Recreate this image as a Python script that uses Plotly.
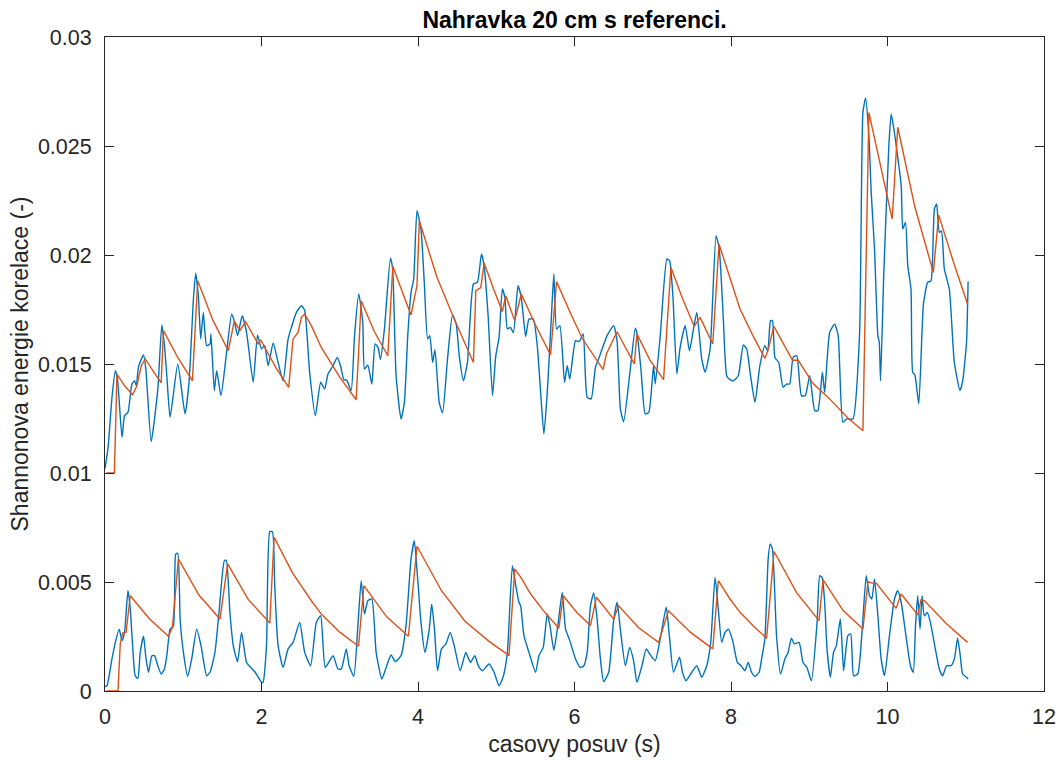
import plotly.graph_objects as go

# ---------------- data ----------------
upper_blue_t = [0.0, 0.04, 0.09, 0.132, 0.16, 0.217, 0.25, 0.293, 0.344, 0.378, 0.40, 0.429, 0.493, 0.522, 0.59,
                0.675, 0.726, 0.76, 0.79, 0.832, 0.93, 1.023, 1.074, 1.13, 1.159, 1.193, 1.223, 1.256, 1.299, 1.342,
                1.354, 1.397, 1.427, 1.482, 1.554, 1.618, 1.652, 1.694, 1.754, 1.809, 1.894, 1.949, 2.0, 2.04, 2.085,
                2.149, 2.212, 2.276, 2.34, 2.382, 2.446, 2.51, 2.552, 2.615, 2.688, 2.756, 2.807, 2.85, 2.914, 2.968,
                3.01, 3.053, 3.09, 3.146, 3.189, 3.243, 3.294, 3.316, 3.359, 3.41, 3.452, 3.49, 3.52, 3.571, 3.647,
                3.675, 3.72, 3.783, 3.826, 3.869, 3.911, 3.945, 3.987, 4.038, 4.08, 4.123, 4.15, 4.187, 4.217, 4.271,
                4.314, 4.377, 4.441, 4.49, 4.527, 4.581, 4.632, 4.708, 4.76, 4.811, 4.845, 4.896, 4.952, 4.994, 5.036,
                5.078, 5.11, 5.142, 5.18, 5.219, 5.278, 5.32, 5.376, 5.418, 5.474, 5.524, 5.567, 5.609, 5.652, 5.703,
                5.736, 5.771, 5.813, 5.873, 5.907, 5.94, 6.013, 6.06, 6.111, 6.162, 6.213, 6.268, 6.331, 6.416, 6.5,
                6.544, 6.586, 6.628, 6.713, 6.777, 6.80, 6.849, 6.904, 6.95, 7.01, 7.032, 7.096, 7.181, 7.215, 7.257,
                7.308, 7.35, 7.414, 7.469, 7.52, 7.563, 7.626, 7.669, 7.733, 7.809, 7.85, 7.902, 7.945, 7.987, 8.03,
                8.093, 8.157, 8.2, 8.25, 8.306, 8.369, 8.433, 8.47, 8.505, 8.53, 8.561, 8.61, 8.666, 8.71, 8.75, 8.794,
                8.84, 8.9, 8.95, 9.006, 9.07, 9.11, 9.168, 9.197, 9.261, 9.325, 9.37, 9.43, 9.48, 9.558, 9.643, 9.686,
                9.72, 9.762, 9.792, 9.834, 9.877, 9.895, 9.911, 9.953, 10.017, 10.047, 10.085, 10.175, 10.195, 10.23,
                10.259, 10.3, 10.322, 10.35, 10.4, 10.459, 10.514, 10.555, 10.599, 10.628, 10.662, 10.69, 10.726,
                10.79, 10.854, 10.926, 10.96, 11.01, 11.03]
upper_blue_v = [0.0102, 0.0112, 0.0135, 0.01469, 0.0143, 0.01164, 0.01263, 0.01278, 0.01408, 0.01423, 0.0140, 0.01489,
                0.01541, 0.01477, 0.01144, 0.01385, 0.01679, 0.01584, 0.01446, 0.01255, 0.0150, 0.01271, 0.01416,
                0.01798, 0.01917, 0.01813, 0.01615, 0.01737, 0.01584, 0.01592, 0.01638, 0.01378, 0.01469, 0.01355,
                0.01553, 0.01729, 0.01698, 0.0163, 0.01721, 0.01645, 0.01416, 0.01633, 0.01569, 0.01585, 0.01492,
                0.01596, 0.01507, 0.01423, 0.01615, 0.01668, 0.01737, 0.01767, 0.01745, 0.01462, 0.01263, 0.01416,
                0.01385, 0.01454, 0.01492, 0.0153, 0.01492, 0.01428, 0.01425, 0.01378, 0.0163, 0.01821, 0.01691,
                0.01477, 0.01495, 0.01408, 0.01592, 0.01575, 0.0152, 0.01661, 0.01985, 0.0194, 0.01446, 0.01248,
                0.01324, 0.0163, 0.01829, 0.0189, 0.02203, 0.02119, 0.01875, 0.01615, 0.0163, 0.01507, 0.01566,
                0.01324, 0.01275, 0.01523, 0.01725, 0.0168, 0.01537, 0.01423, 0.01507, 0.01867, 0.01875, 0.02005,
                0.0195, 0.01721, 0.01355, 0.01537, 0.01622, 0.01844, 0.01805, 0.01661, 0.01668, 0.01644, 0.01859,
                0.01805, 0.01626, 0.01706, 0.01706, 0.01584, 0.0137, 0.01179, 0.0137, 0.01706, 0.01913, 0.0166,
                0.01676, 0.01416, 0.01492, 0.01431, 0.01607, 0.01603, 0.01638, 0.01347, 0.0134, 0.01485, 0.01546,
                0.0163, 0.01676, 0.01605, 0.01294, 0.01235, 0.01477, 0.01664, 0.01638, 0.01477, 0.01271, 0.01279,
                0.01492, 0.01408, 0.0163, 0.01982, 0.01974, 0.01813, 0.01454, 0.01576, 0.01676, 0.01561, 0.0166,
                0.01737, 0.01523, 0.01462, 0.01569, 0.02089, 0.02028, 0.01706, 0.01446, 0.01428, 0.01423, 0.01446,
                0.01587, 0.01569, 0.01446, 0.01324, 0.01492, 0.01584, 0.0156, 0.01699, 0.01699, 0.0153, 0.01507,
                0.01393, 0.01408, 0.01408, 0.0153, 0.01538, 0.01355, 0.01355, 0.01446, 0.01286, 0.01286, 0.01462,
                0.0137, 0.01645, 0.01683, 0.0163, 0.01232, 0.01248, 0.01248, 0.01638, 0.02654, 0.0272, 0.02547,
                0.02287, 0.02028, 0.0163, 0.016, 0.01423, 0.0192, 0.02501, 0.02647, 0.0257, 0.02318, 0.02119, 0.02149,
                0.01951, 0.01844, 0.01462, 0.0145, 0.01317, 0.01775, 0.01875, 0.0188, 0.02211, 0.02234, 0.02104,
                0.0211, 0.01936, 0.01844, 0.01507, 0.01378, 0.0142, 0.0160, 0.01878]

upper_orange_t = [0.02, 0.12, 0.153, 0.25, 0.353, 0.408, 0.463, 0.514, 0.62, 0.718, 0.747, 0.93, 1.117, 1.185, 1.38,
                  1.576, 1.652, 1.724, 1.796, 1.958, 1.99, 2.04, 2.19, 2.348, 2.403, 2.467, 2.51, 2.552, 2.637, 2.764,
                  3.0, 3.21, 3.274, 3.44, 3.614, 3.678, 3.80, 3.911, 3.987, 4.017, 4.24, 4.463, 4.708, 4.739, 4.803,
                  4.845, 4.96, 5.078, 5.121, 5.236, 5.32, 5.50, 5.694, 5.771, 5.94, 6.098, 6.365, 6.408, 6.544, 6.764,
                  6.798, 6.96, 7.138, 7.232, 7.38, 7.529, 7.605, 7.767, 7.847, 7.987, 8.115, 8.28, 8.433, 8.47, 8.548,
                  8.786, 8.858, 9.05, 9.26, 9.5, 9.686, 9.762, 10.06, 10.131, 10.35, 10.586, 10.654, 10.85, 11.023]
upper_orange_v = [0.0100, 0.0100, 0.01454, 0.0140, 0.01359, 0.0140, 0.01492, 0.01523, 0.01465, 0.01413, 0.01653,
                  0.0153, 0.01423, 0.01882, 0.0170, 0.01561, 0.01698, 0.01653, 0.01694, 0.01592, 0.01611, 0.01576,
                  0.0148, 0.01393, 0.01615, 0.01645, 0.01714, 0.01729, 0.01676, 0.01576, 0.0144, 0.01336, 0.0179,
                  0.0165, 0.01538, 0.01948, 0.0183, 0.01725, 0.01859, 0.02157, 0.0190, 0.01706, 0.01507, 0.01836,
                  0.01851, 0.01963, 0.0185, 0.0174, 0.01813, 0.01699, 0.01821, 0.0168, 0.01541, 0.01878, 0.0174,
                  0.01618, 0.01474, 0.01546, 0.01648, 0.0150, 0.01638, 0.0152, 0.01428, 0.01944, 0.0180, 0.01673,
                  0.01714, 0.01592, 0.0205, 0.0189, 0.01752, 0.0163, 0.01526, 0.0156, 0.01673, 0.01517, 0.01517,
                  0.0141, 0.0134, 0.0125, 0.01194, 0.02654, 0.02165, 0.02586, 0.0222, 0.0192, 0.02183, 0.0196,
                  0.01775]

lower_blue_t = [0.0, 0.025, 0.089, 0.132, 0.182, 0.217, 0.25, 0.293, 0.32, 0.353, 0.386, 0.42, 0.45, 0.493, 0.522,
                0.556, 0.599, 0.633, 0.675, 0.718, 0.76, 0.79, 0.832, 0.875, 0.904, 0.93, 0.96, 1.002, 1.057, 1.108,
                1.172, 1.227, 1.299, 1.342, 1.405, 1.457, 1.525, 1.55, 1.596, 1.639, 1.694, 1.745, 1.809, 1.873, 1.92,
                2.0, 2.02, 2.064, 2.106, 2.14, 2.169, 2.212, 2.276, 2.34, 2.403, 2.488, 2.552, 2.628, 2.701, 2.756,
                2.815, 2.914, 2.977, 3.02, 3.083, 3.12, 3.18, 3.232, 3.274, 3.316, 3.359, 3.41, 3.465, 3.538, 3.60,
                3.656, 3.71, 3.783, 3.847, 3.911, 3.953, 3.996, 4.038, 4.089, 4.144, 4.175, 4.21, 4.25, 4.3, 4.357,
                4.412, 4.463, 4.539, 4.611, 4.67, 4.726, 4.77, 4.824, 4.908, 4.972, 5.036, 5.092, 5.142, 5.206, 5.25,
                5.29, 5.312, 5.354, 5.418, 5.503, 5.545, 5.6, 5.652, 5.69, 5.736, 5.787, 5.843, 5.886, 5.94, 6.013,
                6.076, 6.12, 6.162, 6.204, 6.246, 6.289, 6.331, 6.373, 6.437, 6.5, 6.544, 6.586, 6.65, 6.705, 6.755,
                6.798, 6.862, 6.917, 6.975, 7.032, 7.096, 7.172, 7.214, 7.265, 7.342, 7.38, 7.426, 7.499, 7.563,
                7.626, 7.69, 7.741, 7.796, 7.838, 7.881, 7.924, 7.966, 8.021, 8.081, 8.13, 8.178, 8.22, 8.263, 8.306,
                8.36, 8.391, 8.433, 8.475, 8.50, 8.53, 8.582, 8.633, 8.688, 8.73, 8.772, 8.81, 8.87, 8.92, 8.97,
                9.028, 9.1, 9.134, 9.165, 9.197, 9.227, 9.27, 9.31, 9.346, 9.397, 9.42, 9.439, 9.494, 9.53, 9.567,
                9.62, 9.677, 9.728, 9.77, 9.80, 9.834, 9.877, 9.919, 9.962, 10.025, 10.089, 10.131, 10.175, 10.23,
                10.293, 10.33, 10.358, 10.386, 10.416, 10.442, 10.47, 10.51, 10.557, 10.611, 10.662, 10.704, 10.755,
                10.81, 10.854, 10.896, 10.93, 10.96, 11.01, 11.03]
lower_blue_v = [0.0002, 0.00024, 0.00147, 0.00223, 0.00284, 0.00231, 0.0027, 0.0046, 0.0039, 0.00208, 0.0007,
                0.00058, 0.00177, 0.00251, 0.00154, 0.00086, 0.00162, 0.00162, 0.00116, 0.00078, 0.00101, 0.00162,
                0.00284, 0.003, 0.00628, 0.00632, 0.0033, 0.00177, 0.00067, 0.00147, 0.00284, 0.00208, 0.0007,
                0.00086, 0.00177, 0.00361, 0.00598, 0.0060, 0.00361, 0.00208, 0.00134, 0.00269, 0.00131, 0.00104,
                0.00086, 0.0004, 0.0004, 0.00208, 0.00731, 0.0073, 0.00483, 0.00208, 0.00108, 0.00193, 0.00223,
                0.00315, 0.00177, 0.00116, 0.00315, 0.00345, 0.00108, 0.00162, 0.00101, 0.00101, 0.00193, 0.00116,
                0.00067, 0.003, 0.00506, 0.00353, 0.00414, 0.00422, 0.00177, 0.00055, 0.00116, 0.00165, 0.00135,
                0.00162, 0.003, 0.00606, 0.00689, 0.00514, 0.00315, 0.00177, 0.00284, 0.00399, 0.00284, 0.00093,
                0.00193, 0.00216, 0.00269, 0.00208, 0.00093, 0.00177, 0.00131, 0.00162, 0.00116, 0.00093, 0.00124,
                0.00086, 0.00024, 0.0007, 0.00177, 0.00575, 0.00483, 0.00407, 0.0039, 0.00254, 0.00177, 0.00086,
                0.00162, 0.002, 0.00353, 0.00293, 0.00186, 0.003, 0.00452, 0.00284, 0.00231, 0.00147, 0.00108,
                0.00116, 0.00177, 0.00391, 0.0045, 0.0033, 0.00147, 0.00043, 0.00086, 0.00323, 0.00407, 0.00284,
                0.00116, 0.002, 0.00139, 0.0004, 0.00116, 0.00193, 0.00162, 0.00139, 0.00239, 0.00384, 0.00246,
                0.00086, 0.00155, 0.00086, 0.00047, 0.00086, 0.00116, 0.00063, 0.00116, 0.00223, 0.00522, 0.00376,
                0.00223, 0.00269, 0.00284, 0.00231, 0.00131, 0.00116, 0.00093, 0.00131, 0.00086, 0.00067, 0.00086,
                0.00147, 0.00239, 0.00606, 0.00674, 0.0065, 0.00254, 0.00078, 0.00147, 0.00177, 0.00242, 0.00216,
                0.00223, 0.00131, 0.00108, 0.00047, 0.00315, 0.00529, 0.0052, 0.00407, 0.00193, 0.00063, 0.00177,
                0.00208, 0.0033, 0.00208, 0.00093, 0.00254, 0.00262, 0.0007, 0.00078, 0.00284, 0.00529, 0.00437,
                0.00422, 0.00514, 0.00345, 0.00147, 0.0007, 0.00254, 0.00422, 0.0046, 0.00407, 0.00269, 0.00116,
                0.00086, 0.003, 0.00437, 0.00284, 0.00437, 0.00345, 0.0036, 0.003, 0.00193, 0.00101, 0.0007,
                0.00116, 0.00116, 0.00147, 0.00242, 0.00162, 0.00078, 0.00063, 0.00055]

lower_orange_t = [0.02, 0.166, 0.195, 0.225, 0.27, 0.323, 0.57, 0.811, 0.862, 0.938, 1.2, 1.469, 1.567, 1.83, 2.106,
                  2.161, 2.40, 2.637, 2.764, 3.0, 3.24, 3.308, 3.6, 3.877, 3.987, 4.3, 4.6, 4.9, 5.163, 5.236, 5.312,
                  5.44, 5.6, 5.8, 5.856, 6.03, 6.204, 6.28, 6.5, 6.564, 6.82, 7.074, 7.201, 7.48, 7.767, 7.838, 7.987,
                  8.115, 8.28, 8.455, 8.55, 8.84, 9.125, 9.176, 9.43, 9.686, 9.75, 9.80, 9.856, 10.11, 10.175, 10.386,
                  10.429, 10.47, 10.75, 11.023]
lower_orange_v = [0.0, 0.0, 0.00216, 0.00266, 0.0027, 0.00437, 0.0033, 0.00251, 0.00292, 0.00606, 0.0044, 0.0033,
                  0.00583, 0.0042, 0.00312, 0.00705, 0.0054, 0.00414, 0.00353, 0.0027, 0.00205, 0.00483, 0.0034,
                  0.00251, 0.00664, 0.0046, 0.0032, 0.0023, 0.00162, 0.0056, 0.00522, 0.00445, 0.0037, 0.00288,
                  0.00437, 0.0036, 0.0030, 0.0043, 0.0033, 0.00391, 0.0029, 0.00223, 0.00368, 0.0027, 0.00193,
                  0.00506, 0.00422, 0.00361, 0.0030, 0.00242, 0.0064, 0.0045, 0.00323, 0.00511, 0.0037, 0.00284,
                  0.00501, 0.00495, 0.00495, 0.00379, 0.00445, 0.00349, 0.00419, 0.00415, 0.0031, 0.00223]

x_ticks = [0, 2, 4, 6, 8, 10, 12]
y_ticks = [0, 0.005, 0.01, 0.015, 0.02, 0.025, 0.03]
y_tick_text = ["0", "0.005", "0.01", "0.015", "0.02", "0.025", "0.03"]

BLUE = "#0072BD"
ORANGE = "#D95319"
TXT = "#262626"
FONT = "Liberation Sans, Arial, Helvetica, sans-serif"

fig = go.Figure()
fig.add_trace(go.Scatter(x=upper_blue_t, y=upper_blue_v, mode="lines",
                         line=dict(color=BLUE, width=1.4, shape="spline", smoothing=0.5)))
fig.add_trace(go.Scatter(x=upper_orange_t, y=upper_orange_v, mode="lines", line=dict(color=ORANGE, width=1.4)))
fig.add_trace(go.Scatter(x=lower_blue_t, y=lower_blue_v, mode="lines",
                         line=dict(color=BLUE, width=1.4, shape="spline", smoothing=0.5)))
fig.add_trace(go.Scatter(x=lower_orange_t, y=lower_orange_v, mode="lines", line=dict(color=ORANGE, width=1.4)))

axis_common = dict(showgrid=False, zeroline=False, showline=True, linecolor=TXT, linewidth=1,
                   mirror="ticks", ticks="inside", ticklen=9, tickcolor=TXT, tickwidth=1, automargin=False,
                   tickfont=dict(family=FONT, size=21.5, color=TXT))

fig.update_layout(
    width=1061, height=763,
    margin=dict(l=105, r=17, t=37, b=72, autoexpand=False),
    paper_bgcolor="white", plot_bgcolor="white",
    showlegend=False,
    title=dict(text="<b>Nahravka 20 cm s referenci.</b>", x=0.5415, xanchor="center",
               y=1 - 20 / 763, yanchor="middle", yref="container",
               font=dict(family=FONT, size=23, color="black")),
    xaxis=dict(range=[0, 12], tickvals=x_ticks, ticktext=[str(v) for v in x_ticks],
               title=dict(text="casovy posuv (s)", font=dict(family=FONT, size=23, color=TXT), standoff=8),
               ticklabelstandoff=6, **axis_common),
    yaxis=dict(range=[0, 0.03], tickvals=y_ticks, ticktext=y_tick_text,
               title=dict(text="Shannonova energie korelace (-)", font=dict(family=FONT, size=23, color=TXT),
                          standoff=2),
               ticklabelstandoff=8, **axis_common),
)

fig.write_html("out.html")
